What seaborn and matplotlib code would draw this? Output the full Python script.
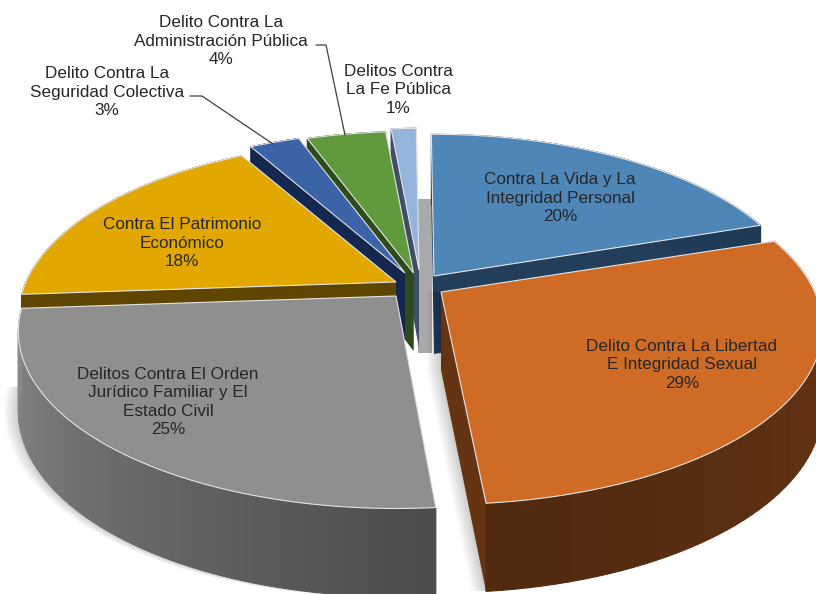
import numpy as np
import matplotlib
matplotlib.use("Agg")
import matplotlib.pyplot as plt
import seaborn as sns

# --- data ---
categories = ["Contra La Vida y La\nIntegridad Personal",
              "Delito Contra La Libertad\nE Integridad Sexual",
              "Delitos Contra El Orden\nJurídico Familiar y El\nEstado Civil",
              "Contra El Patrimonio\nEconómico",
              "Delito Contra La\nSeguridad Colectiva",
              "Delito Contra La\nAdministración Pública",
              "Delitos Contra\nLa Fe Pública"]
values = [20.0, 28.6, 25.4, 18.0, 2.6, 4.1, 1.3]
percent_labels = ["20%", "29%", "25%", "18%", "3%", "4%", "1%"]

top_colors = ["#4F86B8", "#D06B26", "#8F8F8F", "#E2A800", "#3A63A8", "#609A3C", "#93B5DC"]
side_light = ["#24405C", "#6E3815", "#8A8A8A", "#5E4600", "#14284F", "#2D4A1C", "#3F4D66"]
side_dark  = ["#1F3A55", "#50290F", "#4C4C4C", "#5E4600", "#14284F", "#2D4A1C", "#3F4D66"]

# --- layout of the exploded, tilted pie (pixels) ---
tips = [(434, 276), (441, 292), (396, 296), (396, 282), (405, 273), (413.5, 273), (419, 270)]
scale = [0.99, 1.01, 1.0, 1.0, 1.0, 1.0, 1.0]
start_trim = [0, 0, 0.6, 0, 0, 0, 0]
A, B, K, DEPTH, ROT = 370.0, 170.0, 0.2, 78.0, -0.5
label_pos = [(560, 198), (682, 365), (168, 402), (182, 243), (107, 92), (221, 41), (398, 90)]
draw_order = [6, 5, 4, 3, 0, 2, 1]

sns.set_theme(style="white")
plt.rcParams["font.family"] = ["Liberation Sans", "DejaVu Sans"]
fig = plt.figure(figsize=(8.16, 5.94), dpi=100, facecolor="white")
ax = fig.add_axes([0, 0, 1, 1])
ax.set_xlim(0, 816)
ax.set_ylim(594, 0)
ax.axis("off")


def project(i, ang):
    a = np.radians(ang + ROT)
    u, v = np.sin(a), np.cos(a)
    s = 1.0 / (1.0 + K * v)
    return tips[i][0] + A * scale[i] * u * s, tips[i][1] - B * v * s, DEPTH * s ** 0.55


def lerp(c1, c2, t):
    a, b = np.array(matplotlib.colors.to_rgb(c1)), np.array(matplotlib.colors.to_rgb(c2))
    return tuple(a + (b - a) * t)


fracs = np.array(values) / np.sum(values) * 360.0
ends = np.cumsum(fracs)
starts = ends - fracs + np.array(start_trim)

# shadow seen through the central gap
ax.fill([418, 432, 432, 418], [199, 199, 353, 353], color="#A9A9A9", lw=0, zorder=1)

for z, i in enumerate(draw_order):
    zb = 2 + z * 3
    angs = np.linspace(starts[i], ends[i], 60)
    px, py, pd = project(i, angs)
    tx, ty = tips[i]
    d0 = DEPTH
    # soft cast shadow of the wall
    if i in (1, 2):
        for n in range(1, 9):
            sx = np.r_[tx, px, tx] - n * 1.8
            sy = np.r_[ty, py + pd, ty + d0]
            ax.fill(sx, sy, color="black", alpha=0.025, lw=0, zorder=zb)
    # radial walls
    for edge in (0, -1):
        ax.fill([tx, px[edge], px[edge], tx],
                [ty, py[edge], py[edge] + pd[edge], ty + d0],
                color=side_dark[i] if edge == 0 else lerp(side_light[i], side_dark[i], 0.3),
                lw=0, zorder=zb)
    # outer wall, shaded along the arc
    for j in range(len(angs) - 1):
        t = j / (len(angs) - 2)
        t = 1 - t if i == 2 else t
        c = lerp(side_light[i], side_dark[i], t)
        ax.fill([px[j], px[j + 1], px[j + 1], px[j]],
                [py[j], py[j + 1], py[j + 1] + pd[j + 1], py[j] + pd[j]],
                color=c, ec=c, lw=0.8, zorder=zb + 1)
    # top face
    ax.fill(np.r_[tx, px], np.r_[ty, py], facecolor=top_colors[i],
            edgecolor="#E4E4E4", lw=0.8, joinstyle="miter", zorder=zb + 2)

for (x, y), name, pct in zip(label_pos, categories, percent_labels):
    ax.text(x, y, f"{name}\n{pct}", ha="center", va="center", fontsize=12.3,
            color="#262626", linespacing=1.3, zorder=50)

ax.plot([190, 202, 273], [96, 96, 144], color="#404040", lw=0.9, zorder=40)
ax.plot([316, 326, 345], [45, 45, 135], color="#404040", lw=0.9, zorder=40)

fig.savefig("out.png", dpi=100)
